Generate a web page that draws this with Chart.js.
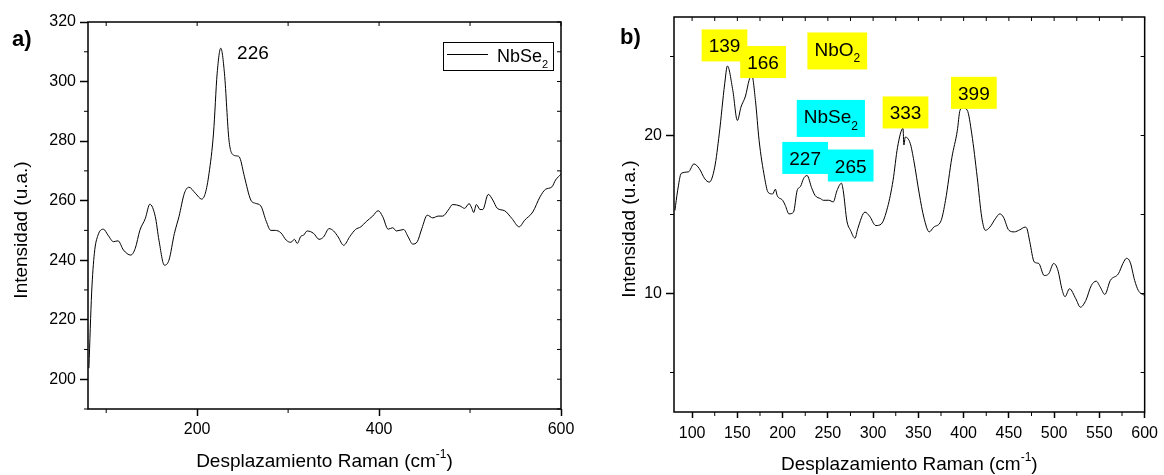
<!DOCTYPE html>
<html>
<head>
<meta charset="utf-8">
<script src="https://cdn.jsdelivr.net/npm/chart.js@4.4.1/dist/chart.umd.min.js"></script>
<style>
    html, body { margin: 0; padding: 0; background: #fff; }
    #wrap { position: relative; width: 1164px; height: 475px; }
    canvas { position: absolute; top: 0; }
    #chartA { left: 0; }
    #chartB { left: 580px; }
</style>
</head>
<body>
<div id="wrap">
    <canvas id="chartA" width="580" height="475"></canvas>
    <canvas id="chartB" width="584" height="475"></canvas>
</div>
<script>
// Panel a: Raman spectrum of NbSe2
const shiftA = [
    81, 84, 87, 91, 97, 102, 108, 113, 119, 127,
    132, 137, 143, 148, 154, 158, 164, 169, 175, 180,
    186, 191, 198, 205, 209, 213, 218, 222, 226, 230,
    235, 240, 244, 247, 252, 259, 264, 270, 276, 281,
    286, 292, 298, 303, 307, 310, 314, 317, 321, 328,
    334, 339, 345, 350, 355, 361, 368, 374, 380, 386,
    393, 399, 404, 410, 415, 419, 427, 432, 437, 442,
    447, 453, 459, 465, 470, 476, 481, 489, 494, 499,
    502, 504, 507, 511, 514, 520, 525, 530, 538, 546,
    554, 560, 569, 577, 583, 590, 594, 600
];
const intensityA = [
    203.7, 229, 242.3, 248.4, 250.4, 248.4, 246.2, 246.5, 243.4, 241.7,
    244, 250, 254, 258.8, 254.6, 246.7, 238.3, 240, 249, 254.6,
    262.5, 264.5, 262.5, 260.5, 262.5, 269, 282.7, 302.8, 311.2, 302.8,
    280.3, 275.3, 275, 274.3, 268, 260.2, 259.1, 258.2, 253, 250,
    250, 249.2, 246.7, 246, 247, 245.6, 248, 248.4, 249.8, 249,
    247, 247.8, 250.6, 249.8, 247.8, 245, 248, 250.3, 251.2, 253,
    254.8, 256.6, 254.6, 250.4, 250.9, 249.8, 250.3, 247.8, 245.4, 246.2,
    250.6, 255.1, 254.2, 254.8, 254.8, 256.8, 258.7, 258.2, 257.4, 259,
    257.4, 256, 258.7, 257, 257, 262.1, 260.2, 257.4, 256.6, 254,
    251.2, 253.4, 256.2, 261.3, 263.8, 264.6, 266.9, 268.9
];
const xTicksA = [200, 400, 600];
const xMinorA = [100, 300, 500];
const yTicksA = [200, 220, 240, 260, 280, 300, 320];
const yMinorA = [190, 210, 230, 250, 270, 290, 310];
const peakA = 226;

// Panel b: NbO2 / NbSe2 spectrum
const shiftB = [
    81, 84, 88, 96, 102, 108, 114, 119, 125, 130,
    136, 139, 145, 150, 154, 159, 163, 166, 170, 174,
    180, 184, 189, 192, 194, 200, 203, 207, 212, 216,
    220, 223, 227, 232, 236, 242, 245, 251, 256, 260,
    265, 267, 271, 275, 280, 283, 291, 296, 303, 309,
    316, 322, 327, 333, 334, 335.5, 341, 345, 351, 356,
    362, 367, 375, 380, 387, 393, 396, 399, 404, 409,
    415, 420, 424, 429, 435, 440, 444, 450, 456, 462,
    468, 470, 473, 478, 483, 489, 494, 499.5, 504, 509,
    512, 517, 524, 529, 535, 541, 546.5, 551, 556, 562,
    571, 576, 580, 584, 589, 593, 600
];
const intensityB = [
    15.25, 16.5, 17.6, 17.7, 18.2, 17.9, 17.26, 17.05, 18.0, 20.1,
    23.27, 24.4, 22.85, 20.95, 21.8, 22.5, 23.5, 23.8, 22.2, 19.7,
    17.36, 16.4, 16.3, 16.6, 16.2, 15.9, 15.57, 15.04, 15.15, 16.5,
    16.8, 17.26, 17.47, 16.7, 16.2, 16.0, 15.9, 15.9, 15.8, 16.5,
    16.98, 16.5, 14.6, 14.0, 13.5, 14.1, 15.15, 14.9, 14.3, 14.4,
    15.46, 17.15, 19.26, 20.45, 19.4, 19.9, 19.5, 18.4, 16.3, 14.83,
    13.9, 14.2, 14.6, 15.9, 18.6, 20.3, 21.6, 21.75, 21.6, 20.1,
    17.36, 14.83, 14.0, 14.2, 14.73, 15.04, 14.83, 14.0, 13.9, 14.03,
    14.2, 14.1, 13.3, 12.0, 11.9, 11.14, 11.25, 11.9, 11.5, 10.19,
    9.8, 10.3, 9.66, 9.13, 9.56, 10.5, 10.78, 10.4, 9.94, 10.82,
    11.25, 11.9, 12.23, 11.98, 10.82, 10.19, 9.87
];
const xTicksB = [100, 150, 200, 250, 300, 350, 400, 450, 500, 550, 600];
const xMinorB = [125, 175, 225, 275, 325, 375, 425, 475, 525, 575];
const yTicksB = [10, 20];
const yMinorB = [5, 15, 25];
const peaksNbO2 = [139, 166, 333, 399];
const peaksNbSe2 = [227, 265];

const FONT = '"Liberation Sans", Arial, sans-serif';
const YELLOW = '#ffff00';
const CYAN = '#00ffff';

// where each peak tag sits, in data units (box centre)
const tagAt = {
    139: [135.8, 25.7], 166: [178.4, 24.65], 333: [335.8, 21.46], 399: [411.3, 22.7],
    227: [224.9, 18.58], 265: [275.2, 18.1]
};

const xTitle = [{ t: 'Desplazamiento Raman (cm' }, { t: '-1', sup: true }, { t: ')' }];
const yTitle = [{ t: 'Intensidad (u.a.)' }];

function richWidth(ctx, parts, size) {
    let w = 0;
    parts.forEach((p) => {
        ctx.font = `${p.sub || p.sup ? Math.round(size * 0.62) : size}px ${FONT}`;
        w += ctx.measureText(p.t).width;
    });
    return w;
}

function drawRich(ctx, parts, x, y, size, align) {
    const w = richWidth(ctx, parts, size);
    let cx = align === 'center' ? x - w / 2 : x;
    ctx.textAlign = 'left';
    ctx.textBaseline = 'alphabetic';
    ctx.fillStyle = '#000';
    parts.forEach((p) => {
        const fs = p.sub || p.sup ? Math.round(size * 0.62) : size;
        ctx.font = `${fs}px ${FONT}`;
        const dy = p.sub ? size * 0.34 : p.sup ? -size * 0.45 : 0;
        ctx.fillText(p.t, cx, y + dy);
        cx += ctx.measureText(p.t).width;
    });
}

// per-canvas extras drawn by the decor plugin (kept outside Chart options
// so the option resolver doesn't touch them)
const decorCfg = {};

// frame, extra ticks, titles, legend and peak tags
const decor = {
    id: 'decor',
    afterDraw(chart) {
        const o = decorCfg[chart.canvas.id];
        if (!o) {
            return;
        }
        const { ctx, chartArea: a } = chart;
        const x = chart.scales.x;
        const y = chart.scales.y;
        ctx.save();

        ctx.strokeStyle = '#000';
        ctx.lineWidth = 1.5;
        ctx.strokeRect(a.left, a.top, a.right - a.left, a.bottom - a.top);

        ctx.lineWidth = 1;
        ctx.beginPath();
        o.minorX.forEach((v) => {
            const p = x.getPixelForValue(v);
            ctx.moveTo(p, a.bottom);
            ctx.lineTo(p, a.bottom + 4);
        });
        o.minorY.forEach((v) => {
            const p = y.getPixelForValue(v);
            ctx.moveTo(a.left, p);
            ctx.lineTo(a.left - 4, p);
        });
        o.topX.forEach((v) => {
            const p = x.getPixelForValue(v);
            ctx.moveTo(p, a.top);
            ctx.lineTo(p, a.top + 4);
        });
        o.rightY.forEach((v) => {
            const p = y.getPixelForValue(v);
            ctx.moveTo(a.right, p);
            ctx.lineTo(a.right - 4, p);
        });
        ctx.stroke();

        // axis titles
        drawRich(ctx, xTitle, (a.left + a.right) / 2, o.xTitleY, 19, 'center');
        ctx.save();
        ctx.translate(o.yTitleX, o.yTitleMid);
        ctx.rotate(-Math.PI / 2);
        drawRich(ctx, yTitle, 0, 0, 19, 'center');
        ctx.restore();

        // panel letter
        ctx.font = `bold 22px ${FONT}`;
        ctx.fillStyle = '#000';
        ctx.textAlign = 'left';
        ctx.textBaseline = 'alphabetic';
        ctx.fillText(o.panel.text, o.panel.x, o.panel.y);

        if (o.legend) {
            const w = 110;
            const h = 28;
            const lx = a.right - 8 - w;
            const ly = a.top + 20;
            ctx.lineWidth = 1;
            ctx.strokeRect(lx + 0.5, ly + 0.5, w, h);
            ctx.beginPath();
            ctx.moveTo(lx + 4, ly + 12.5);
            ctx.lineTo(lx + 45, ly + 12.5);
            ctx.stroke();
            drawRich(ctx, o.legend, lx + 54, ly + 20, 18, 'left');
        }

        o.tags.forEach((tag) => {
            const cx = x.getPixelForValue(tag.at[0]);
            const cy = y.getPixelForValue(tag.at[1]);
            const hasSub = tag.parts.some((p) => p.sub);
            if (tag.fill) {
                const w = richWidth(ctx, tag.parts, 19) + 14;
                const h = hasSub ? 37 : 32;
                ctx.fillStyle = tag.fill;
                ctx.fillRect(cx - w / 2, cy - h / 2, w, h);
            }
            drawRich(ctx, tag.parts, cx, cy + (hasSub ? 5 : 7), 19, 'center');
        });

        ctx.restore();
    }
};

function makeChart(id, xs, ys, cfg) {
    decorCfg[id] = cfg.decor;
    const points = xs.map((v, i) => ({ x: v, y: ys[i] }));
    const tickFont = { family: FONT, size: 16 };
    return new Chart(document.getElementById(id).getContext('2d'), {
        type: 'line',
        data: {
            datasets: [{
                data: points,
                borderColor: '#000',
                borderWidth: 1,
                pointRadius: 0,
                cubicInterpolationMode: 'monotone',
                fill: false
            }]
        },
        options: {
            responsive: false,
            animation: false,
            devicePixelRatio: 1,
            layout: { padding: cfg.padding },
            plugins: {
                legend: { display: false },
                tooltip: { enabled: false }
            },
            scales: {
                x: {
                    type: 'linear',
                    min: cfg.xMin,
                    max: cfg.xMax,
                    border: { display: false },
                    grid: {
                        drawOnChartArea: false,
                        drawTicks: true,
                        tickLength: cfg.xTickLen,
                        tickColor: '#000',
                        tickWidth: 1.5
                    },
                    ticks: { color: '#000', font: tickFont, padding: cfg.xPad, maxRotation: 0 },
                    afterBuildTicks: (s) => { s.ticks = cfg.xTicks.map((v) => ({ value: v })); },
                    afterFit: (s) => { s.height = cfg.xHeight; }
                },
                y: {
                    min: cfg.yMin,
                    max: cfg.yMax,
                    border: { display: false },
                    grid: {
                        drawOnChartArea: false,
                        drawTicks: true,
                        tickLength: 8,
                        tickColor: '#000',
                        tickWidth: 1.5
                    },
                    ticks: { color: '#000', font: tickFont, padding: 4 },
                    afterBuildTicks: (s) => { s.ticks = cfg.yTicks.map((v) => ({ value: v })); },
                    afterFit: (s) => { s.width = cfg.yWidth; }
                }
            }
        },
        plugins: [decor]
    });
}

makeChart('chartA', shiftA, intensityA, {
    padding: { top: 22, right: 19, left: 0, bottom: 0 },
    xMin: 80, xMax: 600, yMin: 190, yMax: 320,
    xTicks: xTicksA, yTicks: yTicksA,
    xTickLen: 7, xPad: 4, xHeight: 66, yWidth: 88,
    decor: {
        minorX: xMinorA,
        minorY: yMinorA,
        topX: xTicksA.concat(xMinorA),
        rightY: yTicksA.concat(yMinorA),
        xTitleY: 467,
        yTitleX: 27,
        yTitleMid: 230,
        panel: { text: 'a)', x: 12, y: 46 },
        legend: [{ t: 'NbSe' }, { t: '2', sub: true }],
        tags: [{ parts: [{ t: String(peakA) }], at: [261.3, 309.8] }]
    }
});

makeChart('chartB', shiftB, intensityB, {
    padding: { top: 17, right: 14, left: 0, bottom: 0 },
    xMin: 80, xMax: 600, yMin: 2.5, yMax: 27.5,
    xTicks: xTicksB, yTicks: yTicksB,
    xTickLen: 6, xPad: 6, xHeight: 63, yWidth: 94,
    decor: {
        minorX: xMinorB,
        minorY: yMinorB,
        topX: xTicksB.concat(xMinorB),
        rightY: yTicksB.concat(yMinorB),
        xTitleY: 470,
        yTitleX: 55,
        yTitleMid: 229,
        panel: { text: 'b)', x: 40, y: 44 },
        tags: [
            ...peaksNbO2.map((p) => ({ parts: [{ t: String(p) }], at: tagAt[p], fill: YELLOW })),
            ...peaksNbSe2.map((p) => ({ parts: [{ t: String(p) }], at: tagAt[p], fill: CYAN })),
            { parts: [{ t: 'NbO' }, { t: '2', sub: true }], at: [260.4, 25.35], fill: YELLOW },
            { parts: [{ t: 'NbSe' }, { t: '2', sub: true }], at: [253.3, 21.08], fill: CYAN }
        ]
    }
});
</script>
</body>
</html>
